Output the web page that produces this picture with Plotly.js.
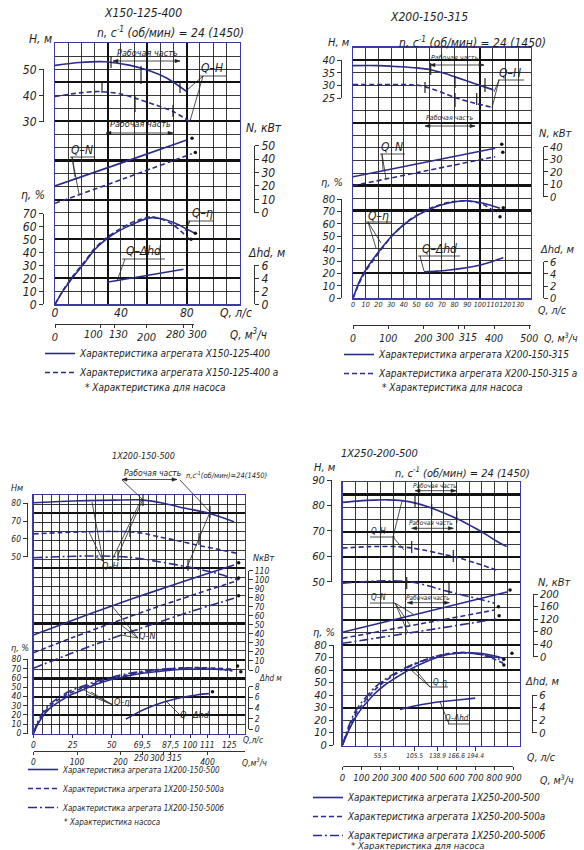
<!DOCTYPE html>
<html><head><meta charset="utf-8">
<script src="https://cdn.plot.ly/plotly-3.0.1.min.js"></script>
<style>html,body{margin:0;padding:0;background:#fff}#chart{width:584px;height:850px}</style>
</head><body><div id="chart"></div>
<script>
// ================= DATA (Q in л/с) =================
// --- Х150-125-400 ---
const p1_Q_H  = [0, 15, 30, 45, 56, 68, 80];
const p1_H    = [51.5, 52.6, 52.9, 51.6, 49.7, 46.6, 41.5];
const p1_Q_Ha = [0, 15, 27, 40, 49, 60, 72, 82];
const p1_Ha   = [39.6, 41.0, 41.5, 40.6, 38.9, 36.6, 33.8, 30.0];
const p1_Q_N  = [0, 40, 80];
const p1_N    = [20, 37, 54.3];
const p1_Q_Na = [0, 42, 83];
const p1_Na   = [7, 25.5, 44];
const p1_Q_E  = [0, 5, 11, 18, 24, 31, 38, 45, 52, 59, 66, 73, 80, 85];
const p1_E    = [0, 10.5, 21, 32, 42, 50, 56, 60.5, 64.5, 66.8, 65.5, 62.5, 58, 54.7];
const p1_Q_Ea = [0, 5, 11, 18, 24, 31, 38, 45, 52, 58, 65, 72, 81];
const p1_Ea   = [0, 11, 22, 33, 43, 51, 57, 62, 65.5, 67.5, 65.5, 61, 51];
const p1_Q_D  = [31.5, 78];
const p1_D    = [3.4, 5.4];
const p1_dotQ_N = [83.2, 85.2], p1_dot_N = [55.5, 45];
const p1_dotQ_E = [85.2, 82.6], p1_dot_E = [54.7, 50.1];
const p1_H_ticks = [30, 40, 50];
const p1_E_ticks = [0, 10, 20, 30, 40, 50, 60, 70];
const p1_N_ticks = [0, 10, 20, 30, 40, 50];
const p1_D_ticks = [0, 2, 4, 6];
const p1_ls_ticks = [0, 40, 80];
const p1_m3_ticks = [0, 100, 130, 200, 280, 300];

// --- Х200-150-315 ---
const p2_Q_H  = [0, 20, 35, 50, 61, 72, 82, 95, 110.6];
const p2_H    = [37.8, 37.8, 37.4, 36.9, 36.2, 34.8, 33.1, 30.9, 28.3];
const p2_Q_Ha = [0, 25, 45, 53, 61, 72, 82, 96, 110.6];
const p2_Ha   = [30.4, 30.4, 30.3, 30.0, 28.9, 26.9, 25.0, 23.1, 21.3];
const p2_Q_N  = [0, 56, 112];
const p2_N    = [16, 27.3, 38.7];
const p2_Q_Na = [0, 56, 112];
const p2_Na   = [8.8, 20.4, 32];
const p2_Q_E  = [0, 5.5, 10.8, 21.3, 31.8, 44.9, 60.7, 76.4, 89.6, 102.7, 115.8];
const p2_E    = [0, 14.7, 24.2, 38.9, 51.6, 63.1, 72, 77, 78.6, 76.5, 72.5];
const p2_Q_Ea = [0, 5.5, 10.8, 21.3, 31.8, 44.9, 60.7, 76.4, 89.6, 102.7, 113.2];
const p2_Ea   = [0, 13.5, 23, 38, 51.5, 63.5, 72.5, 77.5, 78.5, 75.5, 68.5];
const p2_Q_D  = [56, 66, 76, 86, 95, 106, 118.4];
const p2_D    = [4.35, 4.45, 4.65, 4.9, 5.2, 5.8, 6.65];
const p2_dotQ_N = [117.2, 118], p2_dot_N = [41.9, 35.5];
const p2_dotQ_E = [118.4, 115.8], p2_dot_E = [73, 65.8];
const p2_H_ticks = [25, 30, 35, 40];
const p2_E_ticks = [0, 10, 20, 30, 40, 50, 60, 70, 80];
const p2_N_ticks = [0, 10, 20, 30, 40];
const p2_D_ticks = [0, 2, 4, 6];
const p2_ls_ticks = [0, 10, 20, 30, 40, 50, 60, 70, 80, 90, 100, 110, 120, 130];
const p2_m3_ticks = [0, 100, 200, 300, 315, 400, 500];

// --- 1Х200-150-500 ---
const p3_Q_H  = [0, 17, 34, 52, 69, 83, 97, 112, 128];
const p3_H    = [80.3, 81, 81.5, 81.8, 81.9, 80, 77.2, 74.4, 69.7];
const p3_Q_Ha = [0, 17, 34, 50, 61, 72, 80, 92, 104, 117, 130];
const p3_Ha   = [62.8, 63.5, 64, 64.2, 64, 62.8, 61.2, 59, 56.6, 54.3, 51.9];
const p3_Q_Hb = [0, 20, 40, 61, 80, 100, 116, 131];
const p3_Hb   = [49.4, 50.1, 50.4, 49.7, 47.2, 44, 40.8, 36.9];
const p3_Q_N  = [0, 25, 50, 75, 100, 128];
const p3_N    = [38.8, 55, 71, 86, 100.5, 116.3];
const p3_Na   = [19.2, 36, 52, 67.5, 82, 97.8];
const p3_Nb   = [1.9, 19, 35, 50, 64.5, 79.4];
const p3_Q_E  = [0, 2.5, 5.7, 10, 16.4, 23, 31.3, 40, 50.4, 60, 69.6, 80, 88.8, 97, 105.8, 116, 127];
const p3_E    = [0, 9, 18, 26.5, 34.3, 41, 47, 53, 58.4, 62, 65, 67, 68.5, 69.2, 69.5, 69.2, 68.5];
const p3_Ea   = [0, 10.5, 20, 29, 37, 43.5, 49, 54.5, 59.5, 63, 66, 68.5, 70, 70.8, 71, 70.5, 69.5];
const p3_Eb   = [0, 12, 22, 31, 39, 45.5, 51, 56, 61, 64.5, 67, 69, 70, 70.5, 70.5, 69.5, 67.5];
const p3_Q_D  = [59, 65, 72, 80, 88, 97, 105, 112];
const p3_D    = [1.9, 2.9, 3.9, 4.8, 5.5, 6.1, 6.5, 6.7];
const p3_dotQ_N = [131, 131, 131], p3_dot_N = [118.9, 101.9, 82.3];
const p3_dotQ_E = [130.3, 132.4], p3_dot_E = [72.8, 66.6];
const p3_dotQ_D = [114.3], p3_dot_D = [7.06];
const p3_H_ticks = [50, 60, 70, 80];
const p3_E_ticks = [0, 10, 20, 30, 40, 50, 60, 70, 80];
const p3_N_ticks = [0, 10, 20, 30, 40, 50, 60, 70, 80, 90, 100, 110];
const p3_D_ticks = [0, 2, 4, 6, 8];
const p3_ls_ticks = [0, 25, 50, 69.5, 87.5, 100, 111, 125];
const p3_ls_text  = ['0', '25', '50', '69,5', '87,5', '100', '111', '125'];
const p3_m3_ticks = [0, 100, 200, 250, 300, 315, 400];

// --- 1Х250-200-500 ---
const p4_Q_H  = [0, 25, 45, 65, 86.5, 108.5, 125, 137.7, 157, 176.6, 195, 210.8, 225, 240];
const p4_H    = [81.2, 81.8, 82.1, 82.2, 81.9, 80.8, 79.5, 78.2, 76, 73.6, 70.9, 68.4, 66, 63.8];
const p4_Q_Ha = [0, 40, 79, 100, 118, 140, 167, 195, 225];
const p4_Ha   = [63.2, 63.8, 63.8, 63.3, 62.5, 61.2, 59.6, 57.3, 54.6];
const p4_Q_Hb = [0, 35, 69, 99, 125, 147, 167, 186, 205, 223];
const p4_Hb   = [49.4, 50.1, 50.4, 50, 48.4, 46.7, 45.3, 44.1, 42.8, 41.5];
const p4_Q_N  = [0, 120, 242];
const p4_N    = [77.8, 142, 207];
const p4_Q_Na = [0, 112, 223];
const p4_Na   = [58.7, 104, 149];
const p4_Q_Nb = [0, 113, 225];
const p4_Nb   = [42.7, 81, 120];
const p4_Q_E  = [0, 9, 18.3, 27, 35.4, 47, 59.6, 74, 88.9, 105, 123, 137, 152.3, 167, 181.6, 196, 210.8, 223, 235];
const p4_E    = [0, 11.5, 21.4, 28.5, 34, 41, 47, 52.5, 57.4, 62.3, 66.8, 69.8, 72.2, 73.4, 73.8, 73.5, 72.6, 71.2, 69.4];
const p4_Ea   = [0, 13, 24, 31, 37, 44, 50, 55.5, 60, 64.5, 68.5, 71, 73, 74, 74, 73, 71, 68.5, 65.4];
const p4_Eb   = [0, 15, 26.5, 33.5, 39, 46, 51.5, 56.5, 61, 65, 68.5, 71, 72.5, 73.5, 73.5, 72.8, 71.5, 69.8, 67.5];
const p4_Q_D  = [84, 105, 128, 150, 172, 194];
const p4_D    = [3.7, 4.25, 4.7, 5.0, 5.25, 5.5];
const p4_dotQ_N = [245, 228, 229], p4_dot_N = [212.8, 159.5, 130.8];
const p4_dotQ_E = [247.8, 236, 236], p4_dot_E = [73.4, 68.6, 64];
const p4_H_ticks = [50, 60, 70, 80, 90];
const p4_E_ticks = [0, 10, 20, 30, 40, 50, 60, 70, 80];
const p4_N_ticks = [0, 40, 80, 120, 160, 200];
const p4_D_ticks = [0, 2, 4, 6];
const p4_ls_ticks = [55.5, 105.5, 138.9, 166.6, 194.4];
const p4_m3_ticks = [0, 100, 200, 300, 400, 500, 600, 700, 800, 900];

// ================= STYLE / LAYOUT =================
const W = 584, HH = 850;
const NAVY = '#2b2b8c', GRIDC = '#111', MINC = '#222', FRAME = '#3a3aa0', TXT = '#1e1e1e', AXC = '#333';
const FONT = "'Liberation Sans Narrow','DejaVu Sans Condensed','Roboto Condensed','DejaVu Sans',sans-serif";
const DASH = {s: 'solid', a: '5px,3px', b: '9px,3px,2px,3px'};
const fx = px => px / W, fy = py => 1 - py / HH;
function lin(v1, p1, v2, p2) { const k = (p2 - p1) / (v2 - v1); return {toP: v => p1 + (v - v1) * k, toV: p => v1 + (p - p1) / k}; }
const HIDDEN = {showticklabels: false, ticks: '', showline: false, showgrid: false, zeroline: false, fixedrange: true};

const layout = {width: W, height: HH, margin: {l: 0, r: 0, t: 0, b: 0, pad: 0, autoexpand: false}, paper_bgcolor: '#fff', plot_bgcolor: 'rgba(0,0,0,0)',
  font: {family: FONT, style: 'italic', color: TXT, size: 11}, annotations: [], shapes: [], showlegend: true};
const traces = [];
let nx = 0, ny = 0;
function allocX() { nx++; return {id: 'x' + (nx === 1 ? '' : nx), key: 'xaxis' + (nx === 1 ? '' : nx)}; }
function allocY() { ny++; return {id: 'y' + (ny === 1 ? '' : ny), key: 'yaxis' + (ny === 1 ? '' : ny)}; }
function dummy(xa, ya, x, y) { return {type: 'scatter', mode: 'markers', x: [x], y: [y], xaxis: xa, yaxis: ya, marker: {opacity: 0, size: 1}, hoverinfo: 'skip', showlegend: false}; }
function T(text, x, y, size, align) {
  layout.annotations.push({xref: 'paper', yref: 'paper', x: fx(x), y: fy(y), xanchor: align || 'center', yanchor: 'middle', text: text, showarrow: false,
    font: {family: FONT, size: size, color: TXT, style: 'italic'}});
}
// leader / underline lines (drawing decoration)
function A(x1, y1, x2, y2, w) {
  layout.shapes.push({type: 'line', xref: 'paper', yref: 'paper', x0: fx(x1), y0: fy(y1), x1: fx(x2), y1: fy(y2), line: {color: '#222', width: w || 0.8}});
}
// double-headed dimension arrow of the working range
function R(x1, y, x2) {
  A(x1, y, x2, y);
  const head = (xt, dir) => `M${fx(xt)},${fy(y)} L${fx(xt + dir * 5)},${fy(y - 1.7)} L${fx(xt + dir * 5)},${fy(y + 1.7)} Z`;
  [head(x1, 1), head(x2, -1)].forEach(p => layout.shapes.push({type: 'path', xref: 'paper', yref: 'paper', path: p, fillcolor: '#222', line: {color: '#222', width: 0.5}}));
}
// boundary marks of the working range on a curve
function M(x, y1, y2) { A(x, y1, x, y2, 1.2); }

const PANELS = [
 {L: 55, R: 239.5, T: 43, B: 304.3, Qmax: 112, cols: 14, rows: 20, thickRows: [2, 5, 8, 11, 14, 17], thickCols: [4, 7, 10], fs: 12,
  scales: {H: {x: 43, side: 'left', v: [30, 50], p: [121.7, 69.3], ticks: p1_H_ticks},
           E: {x: 43, side: 'left', v: [0, 70], p: [304.3, 213.5], ticks: p1_E_ticks},
           N: {x: 254, side: 'right', v: [0, 50], p: [212.7, 145.7], ticks: p1_N_ticks},
           D: {x: 254, side: 'right', v: [0, 6], p: [304.3, 265.3], ticks: p1_D_ticks}},
  ls: {vals: p1_ls_ticks, text: p1_ls_ticks.map(String), len: 0, fs: 12},
  m3: {y: 324, max: 304, vals: p1_m3_ticks, fs: 11, ann: {100: 93, 130: 118, 280: 175, 300: 197}, ay: 334.5},
  legend: {x: 46, y: 350, fs: 10},
  curves: [
    {s: 'H', q: p1_Q_H, v: p1_H, st: 's', name: 'Характеристика агрегата Х150-125-400'},
    {s: 'H', q: p1_Q_Ha, v: p1_Ha, st: 'a', name: 'Характеристика агрегата Х150-125-400 а'},
    {s: 'N', q: p1_Q_N, v: p1_N, st: 's'}, {s: 'N', q: p1_Q_Na, v: p1_Na, st: 'a'},
    {s: 'E', q: p1_Q_E, v: p1_E, st: 's'}, {s: 'E', q: p1_Q_Ea, v: p1_Ea, st: 'a'},
    {s: 'D', q: p1_Q_D, v: p1_D, st: 's'}],
  dots: [{s: 'N', q: p1_dotQ_N, v: p1_dot_N}, {s: 'E', q: p1_dotQ_E, v: p1_dot_E}]},
 {L: 353, R: 530.7, T: 47.7, B: 298.3, Qmax: 140, cols: 14, rows: 20, thickRows: [2, 7, 9, 14, 19], thickCols: [10], fs: 11,
  scales: {H: {x: 341.3, side: 'left', v: [25, 40], p: [98.3, 60], ticks: p2_H_ticks},
           E: {x: 341.3, side: 'left', v: [0, 80], p: [298.3, 199], ticks: p2_E_ticks},
           N: {x: 542.7, side: 'right', v: [0, 40], p: [196.7, 146.7], ticks: p2_N_ticks},
           D: {x: 542.7, side: 'right', v: [0, 6], p: [298.3, 261.7], ticks: p2_D_ticks}},
  ls: {vals: p2_ls_ticks, text: p2_ls_ticks.map(String), len: 0, fs: 7.2},
  m3: {y: 325, max: 504, vals: p2_m3_ticks, fs: 10.5, ann: {300: 445, 315: 468}, ay: 336.7},
  legend: {x: 345, y: 351, fs: 10},
  curves: [
    {s: 'H', q: p2_Q_H, v: p2_H, st: 's', name: 'Характеристика агрегата Х200-150-315'},
    {s: 'H', q: p2_Q_Ha, v: p2_Ha, st: 'a', name: 'Характеристика агрегата Х200-150-315 а'},
    {s: 'N', q: p2_Q_N, v: p2_N, st: 's'}, {s: 'N', q: p2_Q_Na, v: p2_Na, st: 'a'},
    {s: 'E', q: p2_Q_E, v: p2_E, st: 's'}, {s: 'E', q: p2_Q_Ea, v: p2_Ea, st: 'a'},
    {s: 'D', q: p2_Q_D, v: p2_D, st: 's'}],
  dots: [{s: 'N', q: p2_dotQ_N, v: p2_dot_N}, {s: 'E', q: p2_dotQ_E, v: p2_dot_E}]},
 {L: 33.5, R: 244.9, T: 495, B: 733.5, Qmax: 135, cols: 24, rows: 26, thickRows: [2, 4, 6, 8, 12, 18, 24], thickCols: [0], fs: 8.5,
  scales: {H: {x: 26.7, side: 'left', v: [50, 80], p: [556.7, 503.3], ticks: p3_H_ticks},
           E: {x: 27, side: 'left', v: [0, 80], p: [733.5, 659.3], ticks: p3_E_ticks},
           N: {x: 248, side: 'right', v: [0, 110], p: [670, 570.7], ticks: p3_N_ticks},
           D: {x: 248, side: 'right', v: [0, 8], p: [729.3, 686.7], ticks: p3_D_ticks}},
  ls: {vals: p3_ls_ticks, text: p3_ls_text, len: 3, fs: 8.5},
  m3: {y: 751, max: 486, vals: p3_m3_ticks, fs: 8.5, ann: {250: 141.7, 300: 157.5, 315: 174}, ay: 757.5},
  legend: {x: 29, y: 766, fs: 8},
  curves: [
    {s: 'H', q: p3_Q_H, v: p3_H, st: 's', name: 'Характеристика агрегата 1Х200-150-500'},
    {s: 'H', q: p3_Q_Ha, v: p3_Ha, st: 'a', name: 'Характеристика агрегата 1Х200-150-500а'},
    {s: 'H', q: p3_Q_Hb, v: p3_Hb, st: 'b', name: 'Характеристика агрегата 1Х200-150-500б'},
    {s: 'N', q: p3_Q_N, v: p3_N, st: 's'}, {s: 'N', q: p3_Q_N, v: p3_Na, st: 'a'}, {s: 'N', q: p3_Q_N, v: p3_Nb, st: 'b'},
    {s: 'E', q: p3_Q_E, v: p3_E, st: 's'}, {s: 'E', q: p3_Q_E, v: p3_Ea, st: 'a'}, {s: 'E', q: p3_Q_E, v: p3_Eb, st: 'b'},
    {s: 'D', q: p3_Q_D, v: p3_D, st: 's'}],
  dots: [{s: 'N', q: p3_dotQ_N, v: p3_dot_N}, {s: 'E', q: p3_dotQ_E, v: p3_dot_E}, {s: 'D', q: p3_dotQ_D, v: p3_dot_D}]},
 {L: 342.5, R: 519.8, T: 482, B: 745.5, Qmax: 259.26, cols: 14, rows: 21, thickRows: [3, 6, 8, 10, 13, 15, 17, 20], thickCols: [0], fs: 11,
  scales: {H: {x: 331, side: 'left', v: [50, 90], p: [581.7, 480], ticks: p4_H_ticks},
           E: {x: 333, side: 'left', v: [0, 80], p: [745, 645], ticks: p4_E_ticks},
           N: {x: 532.7, side: 'right', v: [0, 200], p: [656.7, 594], ticks: p4_N_ticks},
           D: {x: 532, side: 'right', v: [0, 6], p: [732.7, 695], ticks: p4_D_ticks}},
  ls: {vals: p4_ls_ticks, text: p4_ls_ticks.map(String), len: 4, fs: 6.6},
  m3: {y: 765.7, max: 900, vals: p4_m3_ticks, fs: 9.5, ann: {}, ay: 776},
  legend: {x: 314, y: 794, fs: 9.8},
  curves: [
    {s: 'H', q: p4_Q_H, v: p4_H, st: 's', name: 'Характеристика агрегата 1Х250-200-500'},
    {s: 'H', q: p4_Q_Ha, v: p4_Ha, st: 'a', name: 'Характеристика агрегата 1Х250-200-500а'},
    {s: 'H', q: p4_Q_Hb, v: p4_Hb, st: 'b', name: 'Характеристика агрегата 1Х250-200-500б'},
    {s: 'N', q: p4_Q_N, v: p4_N, st: 's'}, {s: 'N', q: p4_Q_Na, v: p4_Na, st: 'a'}, {s: 'N', q: p4_Q_Nb, v: p4_Nb, st: 'b'},
    {s: 'E', q: p4_Q_E, v: p4_E, st: 's'}, {s: 'E', q: p4_Q_E, v: p4_Ea, st: 'a'}, {s: 'E', q: p4_Q_E, v: p4_Eb, st: 'b'},
    {s: 'D', q: p4_Q_D, v: p4_D, st: 's'}],
  dots: [{s: 'N', q: p4_dotQ_N, v: p4_dot_N}, {s: 'E', q: p4_dotQ_E, v: p4_dot_E}]}
];

PANELS.forEach((P, i) => {
  const gx = allocX(), gy = allocY(), xd = allocX(), yd = allocY();
  const dom = [fx(P.L), fx(P.R)], ydom = [fy(P.B), fy(P.T)];
  const cell = P.Qmax / P.cols;
  layout[gx.key] = {domain: dom, range: [0, P.Qmax], anchor: gy.id, tickmode: 'array', tickvals: P.thickCols.map(c => c * cell),
    showticklabels: false, ticks: '', showgrid: true, gridcolor: GRIDC, gridwidth: 2.2,
    minor: {tickmode: 'linear', tick0: 0, dtick: cell, showgrid: true, gridcolor: MINC, gridwidth: 0.9, ticks: ''},
    zeroline: false, showline: true, mirror: true, linecolor: FRAME, linewidth: 1.4, fixedrange: true};
  layout[gy.key] = {domain: ydom, range: [0, P.rows], anchor: gx.id, tickmode: 'array', tickvals: P.thickRows,
    showticklabels: false, ticks: '', showgrid: true, gridcolor: GRIDC, gridwidth: 2.2,
    minor: {tickmode: 'linear', tick0: 0, dtick: 1, showgrid: true, gridcolor: MINC, gridwidth: 0.9, ticks: ''},
    zeroline: false, showline: true, mirror: true, linecolor: FRAME, linewidth: 1.4, fixedrange: true};
  traces.push(dummy(gx.id, gy.id, 0, 0));   // base grid subplot
  layout[xd.key] = Object.assign({domain: dom, range: [0, 1], anchor: 'free', position: 0}, HIDDEN);
  layout[yd.key] = Object.assign({domain: ydom, range: [0, 1], anchor: 'free', position: 0}, HIDDEN);

  const ax = {};
  Object.keys(P.scales).forEach(s => {
    const S = P.scales[s], c = lin(S.v[0], S.p[0], S.v[1], S.p[1]);
    const oy = allocY();
    layout[oy.key] = Object.assign({overlaying: gy.id, anchor: gx.id, domain: ydom, range: [c.toV(P.B), c.toV(P.T)]}, HIDDEN);
    ax[s] = oy.id;
    const sy = allocY();
    const lo = Math.min(...S.ticks), hi = Math.max(...S.ticks);
    layout[sy.key] = {anchor: 'free', position: fx(S.x), side: S.side, domain: [fy(c.toP(lo)), fy(c.toP(hi))], range: [lo, hi],
      tickmode: 'array', tickvals: S.ticks, showline: true, linecolor: AXC, linewidth: 1, ticks: 'outside', ticklen: 4, tickcolor: AXC,
      showgrid: false, zeroline: false, tickfont: {size: P.fs, family: FONT, style: 'italic', color: TXT}, fixedrange: true};
    traces.push(dummy(xd.id, sy.id, 0.5, lo));
  });

  // Q, л/с labels
  const xl = allocX();
  layout[xl.key] = {anchor: 'free', position: fy(P.B), domain: dom, range: [0, P.Qmax], tickmode: 'array', tickvals: P.ls.vals, ticktext: P.ls.text,
    showline: false, ticks: P.ls.len ? 'outside' : '', ticklen: P.ls.len, tickcolor: AXC, showgrid: false, zeroline: false, tickangle: 0,
    tickfont: {size: P.ls.fs, family: FONT, style: 'italic', color: TXT}, fixedrange: true};
  traces.push(dummy(xl.id, yd.id, P.Qmax / 2, 0.5));

  // Q, м3/ч scale: crowded labels are placed as annotations, their ticks as minor ticks
  const xm = allocX();
  const pxPerM = (P.R - P.L) / (P.Qmax * 3.6);
  const crowded = P.m3.vals.filter(v => P.m3.ann[v] !== undefined);
  const plain = P.m3.vals.filter(v => P.m3.ann[v] === undefined);
  const xmAx = {anchor: 'free', position: fy(P.m3.y), domain: [fx(P.L), fx(P.L + P.m3.max * pxPerM)], range: [0, P.m3.max],
    tickmode: 'array', tickvals: plain, ticktext: plain.map(String),
    showline: true, linecolor: AXC, linewidth: 1, ticks: 'outside', ticklen: 3, tickcolor: AXC, showgrid: false, zeroline: false, tickangle: 0,
    tickfont: {size: P.m3.fs, family: FONT, style: 'italic', color: TXT}, fixedrange: true};
  if (crowded.length) xmAx.minor = {tickmode: 'array', tickvals: crowded, ticks: 'outside', ticklen: 3, tickcolor: AXC, showgrid: false};
  layout[xm.key] = xmAx;
  traces.push(dummy(xm.id, yd.id, P.m3.max / 2, 0.5));
  crowded.forEach(v => T(String(v), P.m3.ann[v], P.m3.ay, P.m3.fs));

  const lk = i === 0 ? 'legend' : 'legend' + (i + 1);
  layout[lk] = {x: fx(P.legend.x - 6), y: fy(P.legend.y - 11), xanchor: 'left', yanchor: 'top', bgcolor: 'rgba(0,0,0,0)', borderwidth: 0,
    font: {size: P.legend.fs, family: FONT, style: 'italic', color: TXT}, itemwidth: 30, traceorder: 'normal'};

  P.curves.forEach(c => {
    traces.push({type: 'scatter', mode: 'lines', x: c.q, y: c.v, xaxis: gx.id, yaxis: ax[c.s],
      line: {color: NAVY, width: 1.6, dash: DASH[c.st], shape: 'spline', smoothing: 0.8},
      name: c.name || '', showlegend: !!c.name, legend: lk, hoverinfo: 'skip'});
  });
  P.dots.forEach(d => traces.push({type: 'scatter', mode: 'markers', x: d.q, y: d.v, xaxis: gx.id, yaxis: ax[d.s],
    marker: {size: 3.5, color: '#111'}, showlegend: false, hoverinfo: 'skip'}));
});

// ---------- texts: panel 1 ----------
T('Х150-125-400', 143, 13, 12);
T('n, с<sup>-1</sup> (об/мин) = 24 (1450)', 170, 32, 12);
T('H, м', 40, 39, 12); T('N, кВт', 264, 128, 12); T('η, %', 33, 195, 12); T('Δhd, м', 266, 253, 12);
T('Рабочая часть', 147, 53, 9); R(113, 61, 180);
T('Рабочая часть', 140, 124, 9); R(106, 133, 173);
M(111, 56, 68); M(180, 82, 93); M(141, 66, 84); M(102, 82, 93); M(135, 95, 112); M(173, 105, 117);
T('Q–H', 212, 68, 12); A(200, 76, 226, 76); A(203, 76, 187, 90); A(203, 76, 190, 121);
T('Q–N', 82, 150, 12); A(70, 157, 95, 157); A(72, 157, 75, 177); A(72, 157, 79, 194);
T('Q–η', 202, 213, 12); A(188, 221, 214, 221); A(190, 221, 186, 226); A(190, 221, 185, 231);
T('Q–Δhd', 143, 251, 12); A(122, 259, 165, 259); A(125, 259, 117, 281);
T('Q, л/с', 236, 313, 12); T('Q, м<sup>3</sup>/ч', 248, 334, 11.5);
T('* Характеристика для насоса', 83, 387, 10, 'left');
// ---------- panel 2 ----------
T('Х200-150-315', 429, 17, 12);
T('n, с<sup>-1</sup> (об/мин) = 24 (1450)', 472, 42, 12);
T('H, м', 339, 43, 11); T('N, кВт', 555, 133, 11); T('η, %', 332, 182, 11); T('Δhd, м', 557, 249, 11);
T('Рабочая часть', 455, 58, 7); R(430, 65, 484);
T('Рабочая часть', 449, 118, 7); R(425, 126, 475);
M(430.7, 63, 75); M(485, 78, 92); M(455, 76, 88); M(425, 82, 93); M(476.7, 93, 105); M(455, 93, 107);
T('Q–H', 510, 73, 12); A(498, 80, 524, 80); A(499, 80, 494, 92); A(499, 80, 492, 108);
T('Q–N', 392, 147, 12); A(380, 154, 405, 154); A(382, 154, 383, 170); A(382, 154, 386, 179);
T('Q–η', 378, 216, 12); A(366, 222, 392, 222); A(368, 222, 376, 248); A(368, 222, 381, 243);
T('Q–Δhd', 439, 249, 12); A(418, 256, 460, 256); A(420, 256, 424, 271);
T('Q, л/с', 552, 310, 10.5); T('Q, м<sup>3</sup>/ч', 561, 337, 10.5);
T('* Характеристика для насоса', 380, 387, 10, 'left');
// ---------- panel 3 ----------
T('1Х200-150-500', 143, 456, 9);
T('Рабочая часть', 152, 473, 8.5); R(122, 479.5, 177);
T('n,с<sup>-1</sup>(об/мин)=24(1450)', 226, 475, 7.5);
T('Hм', 17, 488, 9); T('NкВт', 264, 558, 9); T('η, %', 20, 648, 9); T('Δhd м', 270, 678, 8);
A(122, 480, 142, 499); A(180, 480, 210, 512); A(143, 499, 118, 555); A(210, 512, 188, 565);
M(143, 494, 506); M(210, 506, 518); M(130, 526, 537); M(199, 533, 545); M(118, 550, 561); M(188, 559, 571);
T('Q–H', 110, 566, 9); A(103, 561, 92, 502); A(103, 561, 89, 532); A(103, 561, 96, 557); A(112, 560, 141, 500);
T('Q–N', 147, 636, 9); A(138, 638, 112, 606); A(138, 638, 116, 621); A(138, 638, 121, 635);
T('Q–η', 122, 702, 9); A(113, 705, 84, 690); A(113, 705, 86, 694); A(113, 705, 91, 692);
T('Q– Δhd', 195, 715, 9); A(183, 718, 165, 700);
T('Q,л/с', 253, 740, 8.5); T('Q,м<sup>3</sup>/ч', 254, 762, 8.5);
T('* Характеристика насоса', 62, 822, 8, 'left');
// ---------- panel 4 ----------
T('1Х250-200-500', 379, 453, 11);
T('n, с<sup>-1</sup> (об/мин) = 24 (1450)', 462, 472, 11);
T('H, м', 325, 468, 11); T('N, кВт', 554, 582, 11); T('η, %', 324, 632, 11); T('Δhd, м', 542, 681, 11);
T('Рабочая часть', 435, 486, 6.5); R(415, 490.7, 456);
T('Рабочая часть', 431, 523, 6.5); R(411.7, 528.3, 453.3);
T('Рабочая часть', 428, 598, 6.5); R(407.3, 602.7, 449.3);
M(415, 495, 507); M(456.7, 511, 523); M(431.7, 504, 516); M(411.7, 541, 553); M(453.3, 550, 562); M(406.7, 577, 589); M(449, 583, 595);
T('Q–H', 378, 531, 8); A(370, 537, 395, 537); A(393, 537, 402, 501); A(393, 537, 404, 550); A(393, 537, 393, 583);
T('Q–N', 378, 597, 8); A(370, 603, 395, 603); A(395, 603, 413, 614); A(395, 603, 410, 625); A(395, 603, 408, 633);
T('Q–η', 440, 682, 8); A(430, 687, 448, 687); A(430, 687, 410, 669); A(430, 687, 413, 667);
T('Q–Δhd', 457, 718, 8); A(448, 724, 470, 724); A(449, 724, 440, 702);
T('Q, л/с', 541, 757, 10.5); T('Q, м<sup>3</sup>/ч', 557, 779, 10.5);
T('* Характеристика для насоса', 349, 845, 9.5, 'left');

Plotly.newPlot('chart', traces, layout, {staticPlot: true, displayModeBar: false});
</script></body></html>
